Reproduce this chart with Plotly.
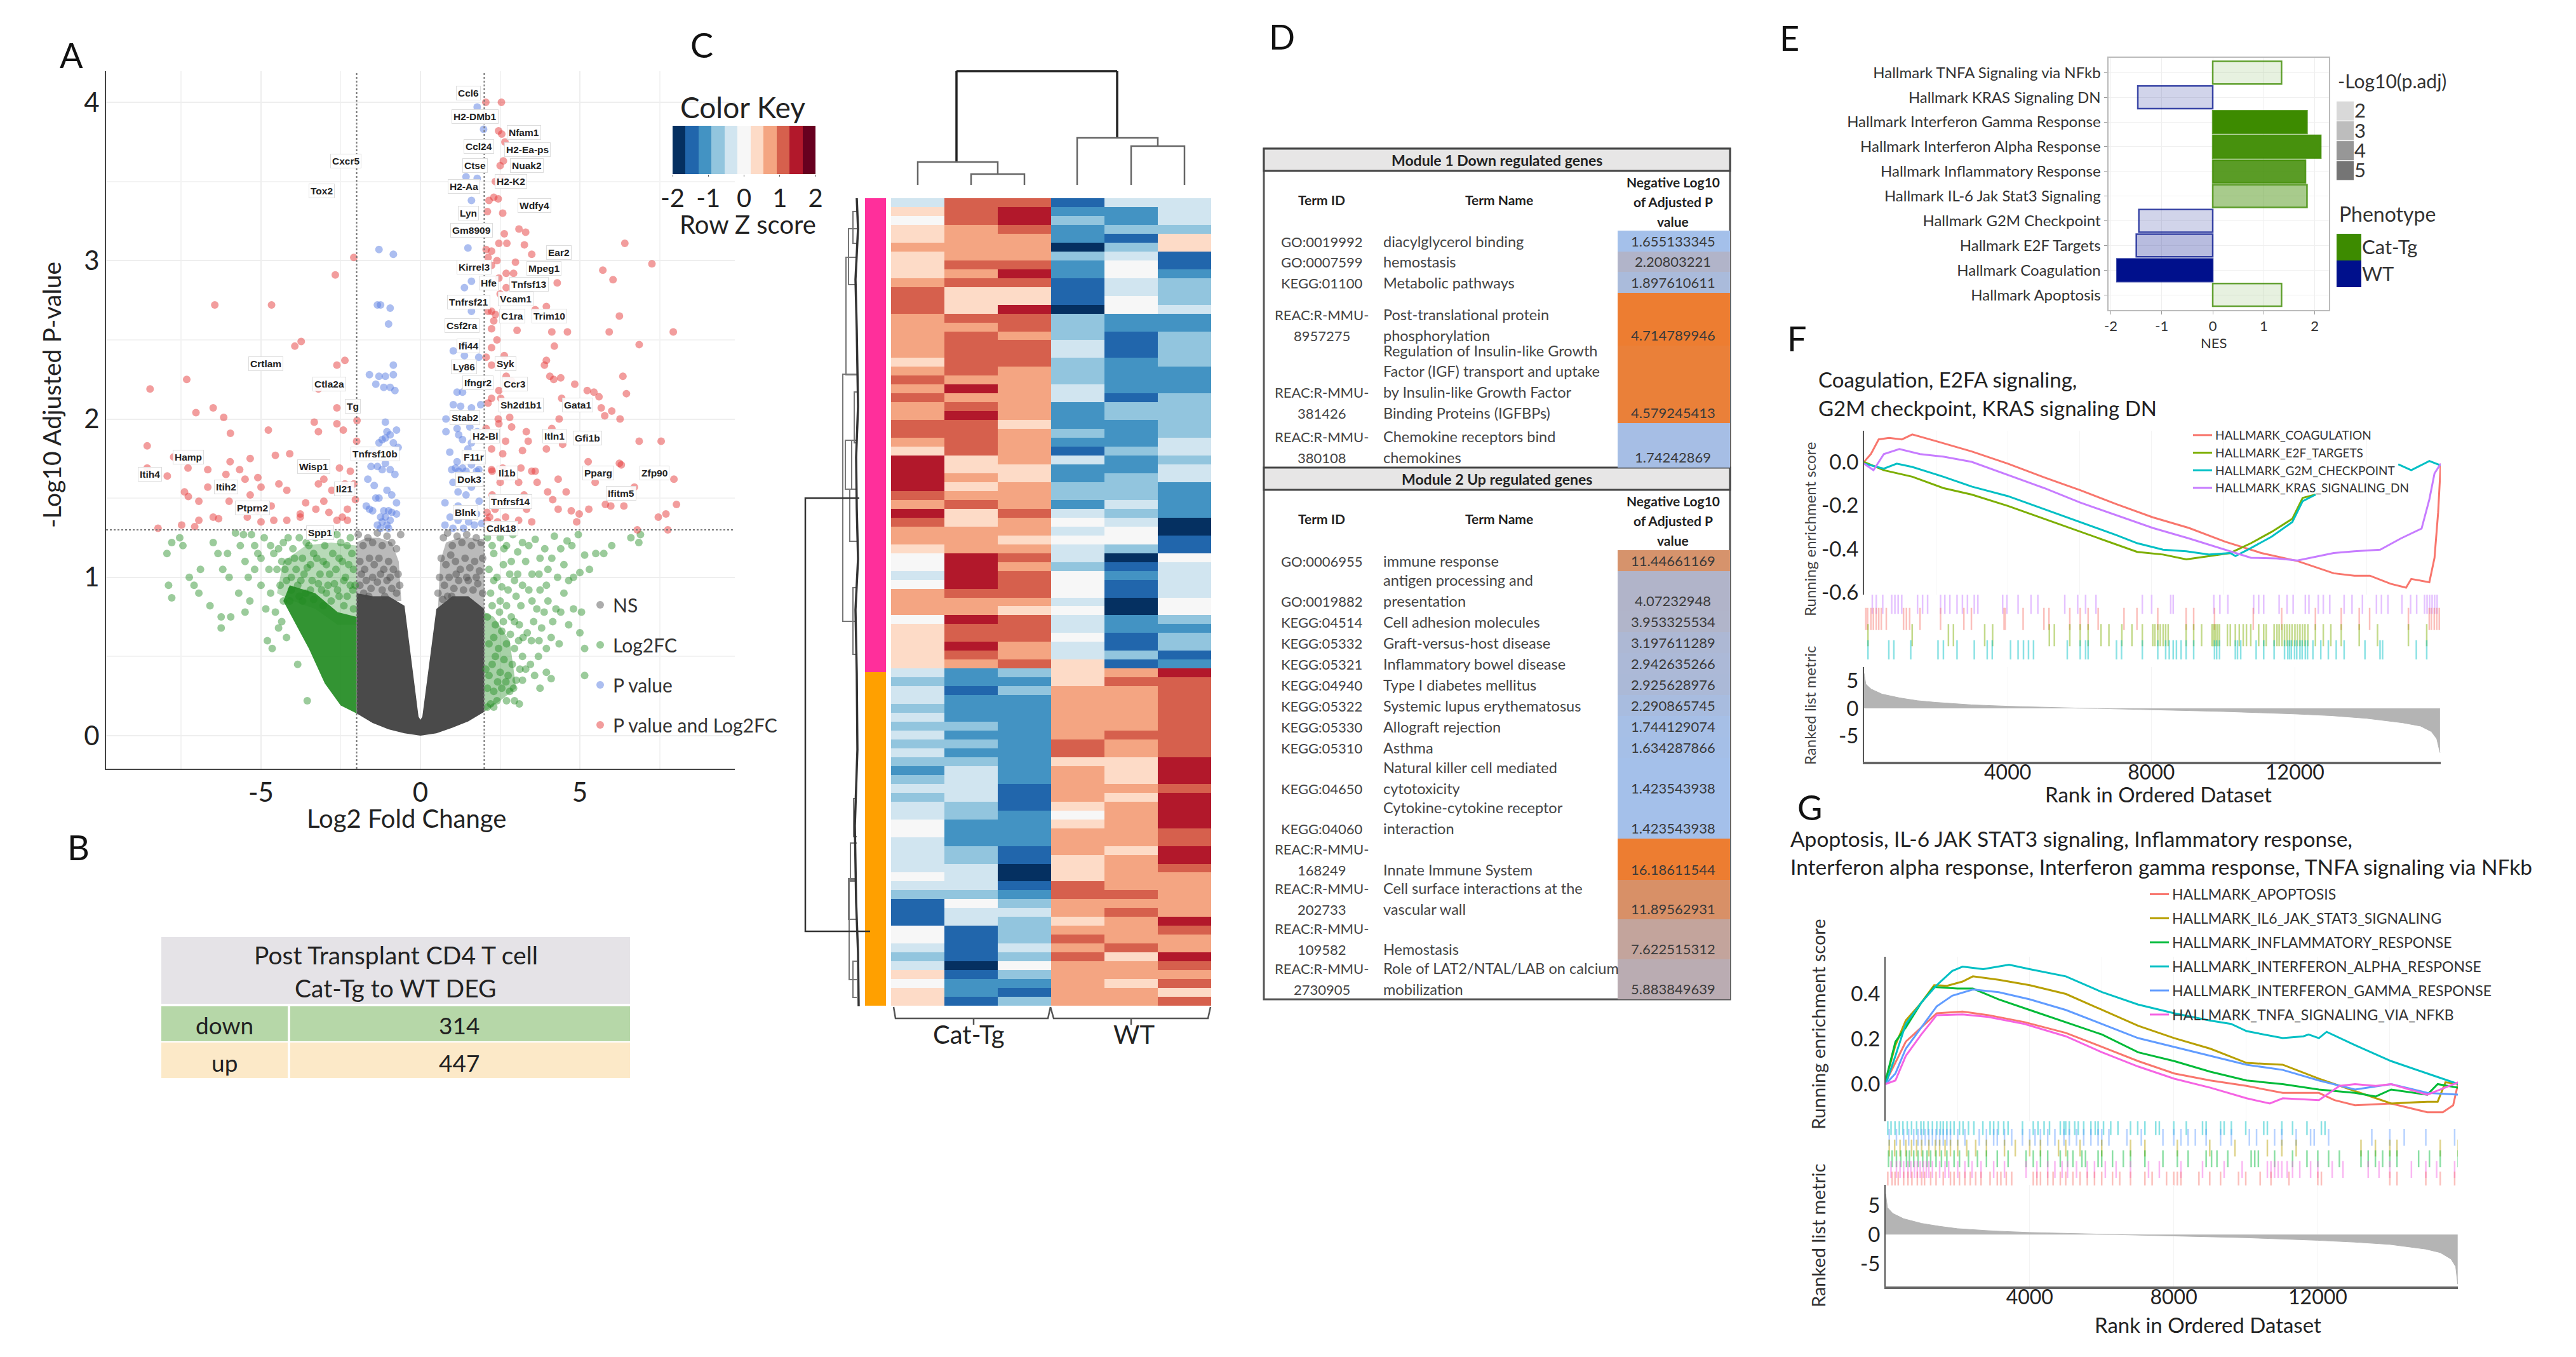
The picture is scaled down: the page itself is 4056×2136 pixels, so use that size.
import plotly.graph_objects as go

W, H = 4056, 2136
FONT = "Lato"

# ---------- A: volcano ----------
red_pts = [(2.54,4.0),(2.05,4.0),(2.45,3.82),(2.55,3.8),(2.65,3.75),(2.6,3.63),(2.5,3.6),(2.55,3.52),(2.35,3.5),(2.3,3.4),(2.15,3.38),(2.1,3.31),(2.44,3.39),(2.58,3.3),
(2.63,3.17),(3.09,3.2),(3.3,3.18),(6.41,3.11),(7.26,2.98),(5.72,2.94),(6.04,2.88),(2.46,3.11),(2.71,3.11),(3.26,3.1),(2.06,3.07),(2.23,3.06),(3.49,3.04),(2.12,3.02),(2.98,2.99),(2.4,3.0),(2.23,2.97),(2.69,2.92),(2.92,2.92),(2.46,2.89),(4.29,2.86),(2.69,2.83),(2.5,2.79),(3.95,2.71),(6.24,2.65),(3.6,2.69),(2.23,2.68),(2.35,2.66),(2.12,2.68),(2.3,2.62),(2.23,2.57),(3.03,2.56),(4.12,2.55),(4.61,2.55),(5.92,2.55),(7.93,2.55),(2.4,2.5),(4.2,2.46),(6.86,2.47),(2.23,2.45),(2.06,2.39),(2.63,2.4),(3.95,2.37),(3.89,2.34),(2.23,2.34),(6.35,2.27),(4.06,2.27),(4.18,2.25),(4.4,2.26),(2.69,2.27),(2.86,2.24),(4.84,2.22),(5.23,2.18),(5.44,2.17),(5.6,2.14),(6.46,2.16),(2.46,2.18),(2.52,2.13),(2.23,2.13),(2.12,2.1),(4.43,2.13),(5.67,2.07),(6.0,2.05),(5.78,2.02),(6.26,2.0),(4.35,2.0),(2.8,2.01),(2.44,2.0),(2.46,1.97),(2.06,1.94),(2.86,1.95),(3.32,1.92),(4.12,1.94),(3.38,1.86),(2.67,1.86),(6.86,1.86),(7.55,1.86),(4.46,1.84),(3.95,1.81),(3.2,1.8),(2.58,1.78),(2.23,1.81),(5.26,1.73),(6.24,1.72),(3.6,1.67),(3.15,1.69),(2.23,1.68),(2.58,1.69),
(6.3,1.71),(7.95,1.62),(6.71,1.57),(5.48,1.6),(3.49,1.67),(4.32,1.62),(3.99,1.54),(3.66,1.6),(4.57,1.54),(5.8,1.46),(5.97,1.45),(8.03,1.46),(4.73,1.42),(4.98,1.4),(5.28,1.43),(4.9,1.35),(6.38,1.45),(7.46,1.38),(7.7,1.4),(6.8,1.3),(7.76,1.3),(4.15,1.49),(4.32,1.43),(3.49,1.35),(3.08,1.36),(2.67,1.38),(2.34,1.43),(2.09,1.41),(2.17,1.38),(2.42,1.35),(2.09,1.36),(2.67,1.47),(3.25,1.52),(2.67,1.64),(2.25,1.67),(3.08,1.6),(3.33,1.43),(2.25,1.52),(2.5,1.6),
(-2.09,3.02),(-2.67,2.91),(-6.45,2.72),(-4.67,2.72),(-3.94,2.46),(-3.74,2.49),(-2.37,2.37),(-2.62,2.34),(-7.33,2.25),(-8.48,2.19),(-3.2,2.19),(-6.5,2.07),(-7.04,2.04),(-6.17,2.01),(-2.62,2.07),(-2.09,2.08),(-3.33,1.98),(-2.62,1.97),(-2.42,1.93),(-3.2,1.92),(-1.99,1.99),(-4.77,1.93),(-5.96,1.91),(-8.57,1.83),(-2.0,1.86),(-4.55,1.77),(-4.1,1.78),(-5.34,1.75),(-7.74,1.76),(-7.29,1.69),(-6.67,1.68),(-5.97,1.73),(-5.67,1.68),(-8.57,1.69),(-7.94,1.64),(-2.54,1.69),(-2.2,1.67),(-3.03,1.62),(-3.2,1.59),(-3.53,1.69),(-5.1,1.63),(-6.1,1.65),(-5.5,1.62),(-4.44,1.59),(-5.0,1.57),(-7.4,1.54),(-7.28,1.51),(-6.95,1.48),(-6.67,1.57),(-5.34,1.52),(-4.19,1.55),(-2.78,1.55),(-2.37,1.59),(-2.09,1.59),(-2.04,1.49),(-3.03,1.48),(-2.87,1.41),(-2.62,1.36),(-2.45,1.38),(-2.29,1.43),(-3.28,1.43),(-3.77,1.4),(-4.19,1.36),(-4.68,1.45),(-5.1,1.42),(-5.43,1.38),(-4.6,1.36),(-5.0,1.35),(-6.0,1.48),(-6.5,1.38),(-6.95,1.36),(-7.08,1.32),(-7.49,1.33),(-8.23,1.31),(-6.33,1.37),(-3.6,1.47),(-3.77,1.38),(-2.29,1.36)]
blue_pts = [(-1.3,3.07),(-0.85,3.04),(-1.35,2.72),(-1.25,2.72),(-0.95,2.7),(-1.0,2.6),(-0.85,2.34),(-1.6,2.28),(-1.3,2.27),(-1.1,2.27),(-0.85,2.28),(-1.15,2.2),(-0.95,2.2),(-1.4,2.22),(-0.8,2.18),(-1.1,1.98),(-1.05,1.92),(-1.2,1.87),(-1.1,1.88),(-0.95,1.9),(-0.75,1.93),(-1.3,1.85),(-0.85,1.85),(-0.7,1.82),(-1.5,1.8),(-1.55,1.7),(-1.35,1.7),(-1.2,1.68),(-1.1,1.72),(-0.95,1.68),(-0.8,1.65),(-1.65,1.62),(-1.45,1.58),(-1.05,1.55),(-1.3,1.5),(-0.9,1.52),(-0.75,1.47),(-1.4,1.5),(-1.7,1.45),(-1.5,1.42),(-1.15,1.42),(-1.0,1.42),(-0.9,1.41),(-0.75,1.4),(-1.25,1.38),(-1.1,1.38),(-0.95,1.36),(-1.2,1.35),(-1.05,1.33),(-1.6,1.43),(-1.35,1.33),(-1.25,1.31),(-1.0,1.31),
(1.78,3.97),(1.98,3.83),(1.43,3.53),(1.78,3.52),(1.6,3.38),(1.49,3.08),(1.6,2.87),(1.38,2.83),(1.6,2.68),(1.03,2.43),(1.38,2.4),(1.83,2.39),(1.32,2.47),(1.15,2.17),(1.32,2.17),(1.03,2.09),(1.26,2.08),(1.6,2.07),(1.89,2.09),(0.8,2.0),(1.15,1.94),(0.8,1.92),(1.2,1.9),(1.55,1.95),(1.78,1.92),(1.32,1.87),(1.6,1.85),(1.49,1.81),(0.92,1.79),(1.15,1.73),(1.32,1.69),(1.6,1.71),(1.83,1.68),(1.2,1.67),(0.98,1.68),
(1.1,1.69),(1.43,1.67),(1.76,1.67),(1.18,1.54),(1.43,1.52),(0.77,1.47),(1.18,1.45),(1.84,1.48),(0.93,1.38),(1.35,1.41),(1.76,1.4),(0.77,1.33),(1.02,1.31),(1.35,1.31),(1.69,1.33),(1.18,1.36),(1.51,1.35),(1.92,1.34),(1.6,1.57),(1.02,1.6)]
green_pts = [(-7.8,1.22),(-7.95,1.15),(-7.45,1.2),(-7.55,1.25),(-7.25,1.0),(-7.9,.95),(-7.8,.87),(-7.1,.95),(-6.95,.9),(-6.9,1.05),(-6.6,.82),(-6.5,1.22),(-6.35,1.15),(-6.2,1.05),(-6.25,.75),(-6.25,.68),(-5.95,.75),(-6.0,1.0),(-6.05,1.15),(-5.8,1.28),(-5.65,1.2),(-5.55,1.27),(-5.5,1.1),(-5.4,1.0),(-5.7,.9),(-5.5,.78),(-5.35,.85),(-5.2,1.05),(-5.2,1.2),(-5.1,1.15),(-5.0,1.12),(-4.9,1.25),(-5.0,.95),(-4.85,.8),(-4.7,.9),(-4.75,1.05),(-4.8,.6),(-4.65,.55),(-4.6,1.15),(-4.5,1.05),(-4.4,.95),(-4.55,.78),(-4.45,.68),(-4.35,1.1),(-4.3,1.22),(-4.2,.98),(-4.15,1.1),(-4.1,.85),(-4.0,1.18),(-3.9,1.05),(-3.85,.95),(-3.8,1.25),(-3.7,1.12),(-3.65,1.02),(-3.6,.9),(-3.5,1.2),(-3.45,1.08),(-3.4,.98),(-3.3,1.25),(-3.25,1.12),(-3.15,1.02),(-3.1,.92),(-3.0,1.2),(-2.95,1.08),(-2.9,.95),(-2.8,1.28),(-2.75,1.15),(-2.65,1.05),(-2.6,.92),(-2.5,1.22),(-2.45,1.1),(-2.35,1.0),(-2.3,.88),(-2.2,1.25),(-2.15,1.15),(-2.1,1.05),(-2.05,.95),(-3.55,.22),(-3.85,.45),(-4.2,.62),(-4.35,.72),
(-4.45,1.18),(-4.25,1.05),(-4.05,1.0),(-3.95,1.12),(-3.75,.98),(-3.55,1.06),(-3.35,1.15),(-3.2,.96),(-3.05,1.1),(-2.85,1.02),(-2.7,.96),(-2.55,1.12),(-2.4,.98),(-2.25,1.08),(-2.12,.92),(-3.8,.88),(-3.45,.92),(-2.95,.9),(-2.55,.88),(-2.2,.95),(-4.3,.85),(-4.05,.92),(-3.7,.85),(-3.35,.86),(-3.05,.82),(-2.8,.85),(-2.4,.82),(-2.1,.8),(-3.58,1.22),(-3.1,1.27),(-2.62,1.27),(-2.3,1.2),(-4.15,1.25),(-4.7,1.2),(-5.3,1.27),
(2.1,1.25),(2.3,1.15),(2.5,1.25),(2.7,1.2),(2.9,1.27),(3.2,1.22),(3.6,1.24),(3.9,1.18),(4.2,1.26),(4.6,1.23),(4.75,1.2),(4.95,1.27),(5.15,1.14),(5.3,1.05),(5.5,1.15),(5.75,1.15),(6.0,1.2),(6.6,1.25),(6.85,1.22),(6.9,1.27),(2.15,1.05),(2.4,1.0),(2.6,1.08),(2.85,1.1),(3.05,1.02),(3.3,1.1),(3.5,1.02),(3.75,1.12),(4.0,1.05),(4.3,1.0),(4.5,1.08),(4.8,1.0),(5.0,1.03),(2.2,.9),(2.5,.85),(2.75,.92),(3.0,.88),(3.2,.95),(3.5,.85),(3.75,.92),(4.0,.85),(4.25,.8),(4.5,.9),(4.8,.8),(5.05,.78),(2.1,.75),(2.35,.7),(2.6,.72),(2.85,.75),(3.1,.7),(3.35,.65),(3.55,.72),(3.8,.68),(4.1,.62),(4.35,.58),(5.0,.65),(5.15,.55),(2.15,.58),(2.45,.55),(2.7,.58),(2.95,.55),(3.2,.5),(3.45,.45),(3.7,.5),(3.95,.4),(4.1,.36),(2.05,.42),(2.25,.45),(2.5,.4),(2.75,.38),(3.0,.35),(3.2,.35),(3.75,.3),(2.1,.3),(2.3,.28),(2.55,.3),(2.8,.28),(2.95,.22),(3.1,.2),(2.2,.2),(2.4,.22),(2.7,.22),(2.1,.18),(2.3,.18),(5.15,.38),
(2.25,1.2),(2.62,1.18),(2.8,1.02),(3.05,1.16),(3.4,1.2),(3.72,1.02),(3.95,.95),(4.12,1.12),(4.4,1.18),(4.65,.98),(2.3,.98),(2.55,.94),(2.95,.98),(3.15,.82),(3.4,.92),(3.65,.8),(3.88,.78),(4.15,.72),(4.4,.78),(4.65,.7),(2.25,.82),(2.48,.78),(2.7,.82),(2.95,.72),(3.22,.62),(3.48,.6),(3.72,.6),(3.95,.55),(2.3,.62),(2.55,.66),(2.82,.64),(3.08,.6),(3.3,.42),(3.58,.38),(2.35,.5),(2.62,.48),(2.88,.45),(3.12,.42),(2.15,.38),(2.42,.34),(2.68,.34),(2.92,.3)]
gray_pts = [(-1.95,1.27),(-1.8,1.2),(-1.65,1.25),(-1.5,1.22),(-1.35,1.28),(-1.2,1.2),(-1.05,1.26),(-.9,1.22),(-.75,1.18),(-.62,1.27),(-1.9,1.1),(-1.75,1.05),(-1.6,1.12),(-1.45,1.08),(-1.3,1.12),(-1.15,1.05),(-1.0,1.1),(-.85,1.05),(-.7,1.02),(-1.9,.95),(-1.7,.98),(-1.55,.93),(-1.35,.97),(-1.2,.92),(-1.05,.98),(-.9,.93),(-.75,.9),(-.65,.95),(-1.85,1.02),(-1.5,1.0),(-1.25,1.02),(-.95,1.0),(-1.62,.88),(-1.12,.88),(-1.78,.9),
(.72,1.25),(.85,1.28),(1.0,1.2),(1.15,1.26),(1.3,1.22),(1.45,1.27),(1.6,1.2),(1.75,1.25),(1.9,1.22),(.65,1.12),(.8,1.08),(.95,1.14),(1.1,1.1),(1.25,1.05),(1.4,1.12),(1.55,1.06),(1.7,1.1),(1.85,1.04),(1.95,1.12),(.6,1.0),(.75,.95),(.9,1.0),(1.05,.93),(1.2,.98),(1.35,.92),(1.5,.98),(1.65,.92),(1.8,.96),(1.95,.9),(.55,.9),(.7,.86),(.85,.88),(1.12,1.02),(1.45,1.0),(1.75,1.0),(.98,.88)]
gray_region_x = [-2,-1.5,-1,-.5,0,.5,1,1.5,2,2,1.5,1,.5,.06,0,-.06,-.5,-1,-1.5,-2,-2]
gray_region_y = [.14,.08,.04,.015,0,.015,.05,.09,.15,.8,.88,.88,.8,.12,.1,.12,.82,.88,.88,.9,.14]
gray_haze_left_x = [-2,-.6,-.68,-.9,-1.3,-1.7,-2,-2]
gray_haze_left_y = [.85,.85,1.1,1.22,1.25,1.25,1.22,.85]
gray_haze_right_x = [2,.55,.62,.8,1.2,1.6,2,2]
gray_haze_right_y = [.8,.8,1.1,1.22,1.25,1.25,1.22,.8]
green_left_x = [-2,-2.5,-3,-3.5,-3.9,-4.3,-4.1,-3.3,-2.6,-2,-2]
green_left_y = [.14,.19,.33,.55,.7,.85,.95,.9,.78,.75,.14]
green_haze_left_x = [-2,-2.6,-3.3,-4.0,-4.5,-4.3,-3.6,-2.8,-2,-2]
green_haze_left_y = [.7,.7,.8,.85,.9,1.1,1.2,1.22,1.2,.7]
green_right_x = [2,2.5,3,2.8,2.3,2,2]
green_right_y = [.15,.22,.3,.6,.75,.78,.15]
gene_labels = ["Ccl6","H2-DMb1","Nfam1","Ccl24","H2-Ea-ps","Ctse","Nuak2","H2-K2","H2-Aa","Cxcr5","Tox2","Wdfy4","Lyn","Gm8909","Ear2","Kirrel3","Mpeg1","Hfe","Tnfsf13","Tnfrsf21","Vcam1","C1ra","Trim10","Csf2ra","Ifi44","Crtlam","Syk","Ly86","Ctla2a","Ifngr2","Ccr3","Sh2d1b1","Gata1","Tg","Stab2","H2-Bl","Itln1","Gfi1b","Tnfrsf10b","F11r","Hamp","Wisp1","Itih4","Pparg","Il1b","Zfp90","Dok3","Itih2","Il21","Ifitm5","Tnfrsf14","Ptprn2","Blnk","Cdk18","Spp1"]
gene_fc = [1.51,1.71,3.25,1.84,3.36,1.71,3.33,2.83,1.36,-2.34,-3.10,3.58,1.51,1.61,4.35,1.68,3.87,2.14,3.41,1.51,2.98,2.87,4.05,1.31,1.51,-4.85,2.67,1.36,-2.85,1.81,2.96,3.16,4.93,-2.12,1.40,2.04,4.20,5.24,-1.43,1.68,-7.28,-3.35,-8.48,5.57,2.72,7.34,1.54,-6.10,-2.40,6.30,2.82,-5.26,1.41,2.54,-3.15]
gene_p = [4.06,3.91,3.81,3.72,3.70,3.60,3.60,3.50,3.47,3.63,3.44,3.35,3.30,3.19,3.05,2.96,2.95,2.86,2.85,2.74,2.76,2.65,2.65,2.59,2.46,2.35,2.35,2.33,2.22,2.23,2.22,2.09,2.09,2.08,2.01,1.89,1.89,1.88,1.78,1.76,1.76,1.70,1.65,1.66,1.66,1.66,1.62,1.57,1.56,1.53,1.48,1.44,1.41,1.31,1.28]

# ---------- B ----------
deg_title = ["Post Transplant CD4 T cell", "Cat-Tg to WT DEG"]
deg_dir = ["down", "up"]
deg_count = [314, 447]

# ---------- C: heatmap (row z-scores, top to bottom) ----------
cat1 = [-.2,.4,-.1,.4,.5,.6,.5,.4,.3,.7,1.1,1.0,1.0,.6,.7,.7,.7,.7,.4,.7,1.1,.8,1.1,.7,.7,1.1,1.1,.7,.5,1.5,1.5,1.4,1.4,1.1,.9,1.4,1.0,.8,.9,.5,0,0,-.3,-.1,.6,.7,.6,.1,.2,.3,.3,.25,.3,-.4,-.6,-.3,-.5,-.6,-.3,-.7,-.4,-.7,-.4,-.6,-1.0,-.7,-.5,-.75,-.2,-.3,-.1,-.1,-.2,-.2,-.2,-.3,.1,-.5,-.7,-1.4,-1.4,-1.3,0,-.1,-.5,-.6,-.4,.2,0,.3,.3]
cat2 = [1.1,1.1,1.2,.9,.9,.7,.7,1.0,.9,1.1,.5,.5,.4,1.0,.9,1.1,1.1,1.0,1.1,1.1,.9,1.3,.7,1.1,1.3,1.1,1.0,1.0,1.1,.4,.4,.6,.5,.7,1.0,.3,.4,.8,.8,.8,1.4,1.3,1.5,1.4,1.2,.7,.9,1.3,1.0,1.1,1.4,1.2,.7,-1.1,-1.1,-1.4,-1.1,-1.1,-1.1,-.7,-1.0,-.8,-1.1,-.7,-.5,-.5,-.3,-.3,-.8,-.7,-1.1,-1.1,-1.1,-.6,-.8,-.2,-.3,-.5,-.6,-.1,-.2,-.5,-1.4,-1.5,-1.4,-1.4,-1.7,-1.3,-1.1,-1.1,-1.5]
cat3 = [1.2,1.4,1.3,1.2,.8,.7,.9,1.0,1.5,1.0,.5,.4,1.5,1.1,1.1,.9,1.0,1.1,1.0,.7,.7,.7,.6,.7,.7,.4,.7,.7,.6,.6,.3,.2,.6,.7,.6,1.0,.8,.7,.5,.6,1.0,.8,1.0,1.0,1.0,.8,.3,1.1,1.1,1.1,.7,.8,1.1,-.9,-1.0,-.8,-1.1,-1.1,-1.1,-1.1,-1.2,-1.1,-1.1,-1.1,-1.1,-1.1,-1.5,-1.3,-1.5,-1.2,-1.1,-1.1,-1.2,-1.5,-1.5,-1.8,-1.9,-1.3,-1.1,-.8,-.5,-.6,-.8,-.7,-.4,-.8,0,-.8,-1.2,-1.4,-.9]
wt1 = [-1.5,-1.1,-.8,-1.1,-1.2,-1.9,-.8,-1.0,-1.1,-1.5,-1.5,-1.4,-1.9,-.6,-.8,-.7,-.3,-.5,-.6,-.6,-.6,-.3,-.35,-1.1,-1.1,-1.1,-.8,-1.1,-1.4,-.4,-1.0,-1.1,-.7,-.7,-1.1,-.3,0,-.3,-.1,-.3,-.5,-.6,-.1,-.1,-.1,-.3,.1,-.3,-.2,0,-.3,-.3,.3,.2,.3,.7,.7,.7,.7,.7,.7,1.1,1.1,.4,.6,.7,.8,.8,.2,.1,.4,.7,.7,.7,.3,.5,.5,1.0,1.0,.8,.8,.4,.6,1.0,.8,1.0,.7,.7,.8,.7,.6]
wt2 = [-.4,-1.1,-1.1,-.9,-1.3,-.7,-.2,-.1,-.1,-.3,-.5,.1,0,-1.1,-1.0,-1.5,-1.5,-1.3,-1.1,-1.1,-1.1,-1.1,-1.4,-.8,-.7,-1.1,-1.1,-1.1,-.8,-1.2,-1.1,-.8,-.6,-.7,-.3,-.8,-.3,-.1,-.1,-.8,-1.8,-1.4,-1.2,-1.5,-1.5,-1.9,-1.8,-1.1,-1.1,-1.4,-1.4,-.7,-1.4,.7,1.1,.8,.7,.7,.7,.7,1.0,.7,.7,.5,.3,.2,.7,.3,.7,.8,.6,.7,.7,.3,.7,.8,.7,.7,1.1,.8,1.1,.7,.9,.7,1.0,.5,.6,.7,.4,.9,.6]
wt3 = [-.35,-.3,-.3,-.6,.3,.3,-1.5,-1.4,-1.1,-.8,-.8,-.9,-.4,-1.0,-1.1,-.7,-.7,-.7,-.7,-1.0,-1.1,-1.1,-.7,-.6,-.6,-.6,-.6,-.3,-.3,-.7,-.3,-.5,-1.1,-1.1,-1.1,-1.1,-1.7,-1.8,-1.6,-1.4,-.1,-.4,-.4,-.3,-.2,0,-.1,-.6,-1.0,-.7,-.7,-1.5,-1.0,1.5,1.1,1.1,1.1,1.1,1.1,1.1,1.1,1.0,1.0,1.5,1.5,1.5,1.2,1.3,1.5,1.6,1.4,1.1,1.1,1.3,1.3,1.0,.6,.7,.7,.8,.7,1.5,1.0,.9,.6,1.3,1.0,.7,1.0,.5,1.1]
sample_labels = ["Cat-Tg", "WT"]
key_midpoints = [-1.82,-1.45,-1.09,-.73,-.36,0,.36,.73,1.09,1.45,1.82]
key_edges = [-2,-1.636,-1.273,-.909,-.545,-.182,.182,.545,.909,1.273,1.636,2]
key_colors = ["#053061","#2166ac","#4393c3","#92c5de","#d1e5f0","#f7f7f7","#fddbc7","#f4a582","#d6604d","#b2182b","#67001f"]
stepped = []
for i, c in enumerate(key_colors):
    stepped += [[i/11, c], [(i+1)/11, c]]

# ---------- D: enrichment tables ----------
m1_ids = [["GO:0019992"],["GO:0007599"],["KEGG:01100"],["REAC:R-MMU-","8957275"],["REAC:R-MMU-","381426"],["REAC:R-MMU-","380108"]]
m1_names = [["diacylglycerol binding"],["hemostasis"],["Metabolic pathways"],["Post-translational protein","phosphorylation"],["Regulation of Insulin-like Growth","Factor (IGF) transport and uptake","by Insulin-like Growth Factor","Binding Proteins (IGFBPs)"],["Chemokine receptors bind","chemokines"]]
m1_vals = ["1.655133345","2.20803221","1.897610611","4.714789946","4.579245413","1.74242869"]
m1_edges = [363,396,428,461,544,666,736]
m2_ids = [["GO:0006955"],["GO:0019882"],["KEGG:04514"],["KEGG:05332"],["KEGG:05321"],["KEGG:04940"],["KEGG:05322"],["KEGG:05330"],["KEGG:05310"],["KEGG:04650"],["KEGG:04060"],["REAC:R-MMU-","168249"],["REAC:R-MMU-","202733"],["REAC:R-MMU-","109582"],["REAC:R-MMU-","2730905"]]
m2_names = [["immune response"],["antigen processing and","presentation"],["Cell adhesion molecules"],["Graft-versus-host disease"],["Inflammatory bowel disease"],["Type I diabetes mellitus"],["Systemic lupus erythematosus"],["Allograft rejection"],["Asthma"],["Natural killer cell mediated","cytotoxicity"],["Cytokine-cytokine receptor","interaction"],["Innate Immune System"],["Cell surface interactions at the","vascular wall"],["Hemostasis"],["Role of LAT2/NTAL/LAB on calcium","mobilization"]]
m2_vals = ["11.44661169","4.07232948","3.953325534","3.197611289","2.942635266","2.925628976","2.290865745","1.744129074","1.634287866","1.423543938","1.423543938","16.18611544","11.89562931","7.622515312","5.883849639"]
m2_edges = [866,899,962,995,1028,1061,1094,1127,1160,1193,1257,1320,1385,1447,1510,1573]

# ---------- E ----------
e_terms = ["Hallmark TNFA Signaling via NFkb","Hallmark KRAS Signaling DN","Hallmark Interferon Gamma Response","Hallmark Interferon Alpha Response","Hallmark Inflammatory Response","Hallmark IL-6 Jak Stat3 Signaling","Hallmark G2M Checkpoint","Hallmark E2F Targets","Hallmark Coagulation","Hallmark Apoptosis"]
e_nes = [1.35,-1.47,1.85,2.12,1.82,1.85,-1.45,-1.5,-1.88,1.35]
e_alpha = [.12,.18,1,.95,.85,.45,.18,.28,1,.12]
e_p_levels = ["2","3","4","5"]
e_p_colors = ["#d9d9d9","#bdbdbd","#979797","#757575"]
e_pheno = ["Cat-Tg","WT"]
e_pheno_colors = ["#3d8b00","#00108c"]

# ---------- F ----------
f_coag_x = [0,191,407,695,1055,1343,1991,2999,4007,5015,6023,7031,8039,9047,10055,11063,12071,13079,13655,14087,14663,15095,15239,15743,15887,15988,16060]
f_coag_y = [0,.036,.103,.11,.103,.126,.096,.048,-.008,-.071,-.13,-.194,-.254,-.303,-.366,-.418,-.455,-.511,-.522,-.522,-.559,-.577,-.537,-.552,-.44,-.232,-.008]
f_e2f_x = [0,551,1343,2207,2999,4007,5015,6023,7031,7607,8327,8975,9623,10199,10775,11351,11927,12215,12575]
f_e2f_y = [0,-.038,-.068,-.12,-.15,-.202,-.261,-.321,-.38,-.413,-.425,-.447,-.432,-.418,-.373,-.321,-.261,-.165,-.15]
f_g2m_x = [0,551,911,1343,2207,2999,4007,5015,6023,7031,7607,8327,8975,9623,10199,10343,10775,11351,11927,12215,12575,None,14879,15239,15743,16060]
f_g2m_y = [-.008,-.031,-.008,-.023,-.068,-.113,-.157,-.217,-.276,-.336,-.373,-.403,-.41,-.425,-.418,-.432,-.395,-.343,-.276,-.18,-.15,None,-.011,-.038,.004,-.016]
f_kras_x = [0,263,551,983,1559,2207,2999,4007,5015,6023,7031,8039,9047,10055,10775,11495,12071,13079,13655,14375,14951,15527,15743,15887,16060]
f_kras_y = [-.008,-.038,.036,.059,.036,.024,0,-.06,-.12,-.187,-.246,-.303,-.351,-.403,-.44,-.443,-.452,-.418,-.41,-.403,-.351,-.306,-.172,-.053,-.008]
f_rug_kras = [230,340,520,770,860,950,1050,1490,1630,1770,2130,2250,2390,2590,2740,2880,3070,3170,3860,3980,4290,4650,4840,5590,5950,6170,6460,7750,8010,8540,8610,9740,9910,10130,10850,10990,11130,11560,11780,11950,12290,12390,12650,12790,12970,13370,13590,13880,14270,14410,14590,14980,15220,15390,15610,15680,15750,15820,15890,15960]
f_rug_coag = [50,190,340,480,620,1100,1270,1560,2130,2780,2990,3930,4430,5010,5150,5730,6020,6240,6520,7240,7600,8180,8970,9180,9760,10840,11630,12570,13290,13790,14080,15160,15740,15880,16020,100,260,410,1180,3900,15800,15950]
f_rug_e2f = [110,1340,2350,2490,3360,3580,5160,5300,5730,6020,6240,6600,6820,7180,7460,7750,8040,8180,8330,8470,8970,9180,9400,9690,9760,9900,10120,10340,10560,10770,10990,11130,11420,11560,11710,11920,12070,12210,12360,12570,12790,13000,13290,13790,14300,15160,15670,8100,8250,8400,9720,9800,9850,11200,11500,11640,11780,11850,12000,12140,12280,10200,10450,10650]
f_rug_g2m = [110,690,830,1300,2060,2210,2590,3070,3430,3570,4080,4290,4440,4580,4720,5660,6020,6170,6240,7030,7170,7750,8180,8400,8610,8830,8970,9180,9760,9900,10340,10490,10920,11130,11420,11710,11850,11990,12140,12290,12500,12720,12930,13150,13370,13950,14370,14440,15380,15670,8500,8700,9820,10400,11800,11900,12050,12200,12350]
f_metric_x = [0,50,200,500,1000,1500,2000,3000,4000,5000,6000,6500,8000,10000,12000,13000,14000,15000,15500,15800,15950,16040]
f_metric_y = [6.4,4.4,3.5,2.6,1.9,1.4,1.1,.65,.4,.2,.05,0,-.25,-.55,-1.0,-1.3,-1.8,-2.6,-3.2,-4.2,-5.5,-8]

# ---------- G ----------
g_alpha_x = [0,272,559,989,1419,1849,2136,2710,3427,4000,5004,6008,7012,8016,9019,9593,10023,11027,11601,11744,12031,12246,13034,14038,15042,15903]
g_alpha_y = [0,.125,.267,.361,.439,.502,.521,.51,.53,.51,.478,.408,.353,.314,.282,.267,.235,.204,.212,.22,.204,.232,.173,.102,.047,0]
g_il6_x = [0,272,559,989,1347,1706,2136,2423,3140,4000,5004,6008,7012,8016,9019,10023,11027,12031,13034,14038,15042,15329,15544,15903]
g_il6_y = [.016,.173,.282,.361,.439,.436,.455,.478,.463,.439,.4,.329,.259,.204,.157,.094,.086,.024,-.031,-.086,-.078,-.078,.008,0]
g_infl_x = [0,272,559,989,1347,1993,2423,3140,4000,5004,6008,7012,8016,9019,10023,11027,12031,13034,13610,14038,15042,15329,15903]
g_infl_y = [.016,.188,.251,.361,.431,.424,.424,.376,.329,.275,.22,.141,.102,.055,.016,0,-.024,-.039,-.055,-.024,-.047,0,-.016]
g_gamma_x = [0,272,559,989,1419,1849,2423,3140,4000,5004,6008,7012,8016,9019,10023,11027,12031,13034,14038,15042,15903]
g_gamma_y = [0,.047,.157,.251,.345,.392,.42,.408,.376,.329,.267,.204,.165,.125,.086,.063,.016,-.024,0,-.039,-.047]
g_tnfa_x = [0,272,559,989,1419,2136,2853,3857,5004,6008,7012,8016,9019,10023,10668,11027,12031,12605,13034,13610,14038,15042,15903]
g_tnfa_y = [0,.016,.125,.22,.306,.309,.298,.267,.212,.141,.078,.024,-.016,-.063,-.086,-.063,-.071,-.008,0,-.008,0,-.047,.008]
g_apop_x = [0,272,559,989,1419,2136,2853,3857,5004,6008,7012,8016,9019,10023,11027,12031,12461,13034,14038,15042,15472,15759,15903]
g_apop_y = [.008,.094,.188,.251,.314,.322,.306,.275,.227,.165,.102,.047,.016,-.008,-.039,-.039,-.071,-.094,-.086,-.125,-.125,-.094,.008]
g_rug_alpha = [60,150,260,380,480,600,720,860,980,1060,1180,1300,1420,1520,1600,1700,1800,1900,2050,2150,2300,2450,2700,2900,3000,3130,3280,3400,3800,4100,4230,4400,4550,4850,4950,5000,5100,5250,5350,5500,5700,5820,5900,6050,6250,6450,6800,7000,7200,7500,7600,8000,8350,8800,8900,9300,9400,9600,10000,10500,10600,11000,11300,11700,12100,12200]
g_rug_gamma = [100,300,500,640,780,900,1000,1100,1200,1300,1400,1500,1600,1700,1800,2000,2200,2600,2800,3000,3100,3300,3500,3800,4000,4150,4300,4500,4700,4950,5100,5300,5500,5700,5900,6000,6200,6700,7100,7700,8000,8200,8400,8600,8900,9300,9600,10100,10300,10800,11000,11400,11800,11900,12300,13500,14000,14400,15000,15800]
g_rug_il6 = [100,250,400,560,720,860,1000,1200,1380,1500,1650,1800,2000,2250,2500,2800,3300,3600,4000,4300,4800,5000,5400,6000,6800,7200,8100,9000,9700,10600,11000,11400,13200,13600,14000,14200,15400,15900]
g_rug_infl = [80,180,300,420,580,660,780,900,1030,1150,1250,1400,1550,1700,1900,2050,2300,2550,2800,3100,3400,3900,4100,4300,4500,4850,5050,5200,5450,5550,5900,6000,6300,6600,6800,7200,7700,8100,8400,8900,9050,9200,9500,10150,10250,10350,10800,11300,11700,12000,12300,12600,13200,13400,13600,13800,14000,14200,14800,15100,15400,15900]
g_rug_tnfa = [150,300,400,500,620,700,800,880,960,1050,1130,1200,1300,1500,1650,1750,2000,2200,2400,2650,3000,3300,3900,4200,4500,4700,4900,5050,5300,5600,5800,6100,6400,6800,7300,7600,8200,8800,9400,9900,10600,10700,10800,10900,11000,11150,11300,11500,11800,12000,12400,12700,13400,13700,14000,14600,15000,15300,15800]
g_rug_apop = [60,180,260,350,500,620,730,880,1000,1080,1250,1400,1600,1800,1900,2050,2200,2350,2500,2650,2900,3100,3200,3350,3500,4100,4200,4300,4500,4650,4850,5000,5200,5400,5600,5800,6000,6300,6500,6800,7200,7400,7800,8000,8100,8200,8700,9000,9300,9800,10000,10400,10700,11200,12000,12100,14000,14200,15000,15400,15800]
g_metric_x = [0,50,200,500,1000,1500,2000,3000,4000,5000,6000,6500,8000,10000,12000,13000,14000,15000,15400,15700,15830,15885]
g_metric_y = [7,4.6,3.6,2.7,1.9,1.4,1.0,.6,.35,.2,.05,0,-.25,-.55,-1.0,-1.3,-1.7,-2.5,-3.1,-4.2,-5.5,-8.5]

# ---------- helpers ----------
def dx(a, b): return [a / W, b / W]
def dy(a, b): return [1 - b / H, 1 - a / H]
annos, shapes, traces = [], [], []
layout = {}

def txt(x, y, s, size=22, color="#222", xa="center", ya="middle", bold=False, angle=0, family=FONT):
    annos.append(dict(x=x, y=y, xref="x13", yref="y13", text=f"<b>{s}</b>" if bold else s, showarrow=False,
                      font=dict(family=family, size=size, color=color), xanchor=xa, yanchor=ya, textangle=angle))
def rect(x0, y0, x1, y1, fill=None, line=None, lw=0, layer="below"):
    shapes.append(dict(type="rect", xref="x13", yref="y13", x0=x0, y0=y0, x1=x1, y1=y1, layer=layer,
                       fillcolor=fill or "rgba(0,0,0,0)", line=dict(color=line or "rgba(0,0,0,0)", width=lw)))
def canvas_lines(xs, ys, color, width):
    traces.append(go.Scatter(x=xs, y=ys, xaxis="x13", yaxis="y13", mode="lines", showlegend=False, hoverinfo="skip",
                             line=dict(color=color, width=width)))
def hidden(dom, rng):
    return dict(domain=dom, range=rng, visible=False, fixedrange=True)

# canvas spanning the whole figure (1 unit = 1 pixel)
layout["xaxis13"] = hidden([0, 1], [0, W])
layout["yaxis13"] = hidden([0, 1], [H, 0])

# ---- panel letters
for s, x, y in [("A",112,86),("B",123,1333),("C",1105,70),("D",2018,57),("E",2817,59),("F",2829,532),("G",2849,1270)]:
    txt(x, y, s, size=54, color="#111")

# ---- A
layout["xaxis"] = dict(domain=dx(167, 1157), range=[-9.86, 9.86], tickvals=[-5, 0, 5], ticktext=["-5", "0", "5"],
    showline=True, linecolor="#444", linewidth=2, gridcolor="#eeeeee", gridwidth=1.5, zeroline=False,
    tickfont=dict(size=42, color="#222"), anchor="y",
    minor=dict(tickvals=[-7.5, -2.5, 2.5, 7.5], showgrid=True, gridcolor="#f3f3f3"))
layout["yaxis"] = dict(domain=dy(112, 1210), range=[-0.209, 4.197], tickvals=[0, 1, 2, 3, 4], ticktext=["0", "1", "2", "3", "4"],
    showline=True, linecolor="#444", linewidth=2, gridcolor="#eeeeee", gridwidth=1.5, zeroline=False,
    tickfont=dict(size=42, color="#222"), anchor="x",
    minor=dict(tickvals=[.5, 1.5, 2.5, 3.5], showgrid=True, gridcolor="#f3f3f3"))
for xs, ys, col in [(gray_haze_left_x, gray_haze_left_y, "rgba(74,74,74,.38)"), (gray_haze_right_x, gray_haze_right_y, "rgba(74,74,74,.38)"),
                    (gray_region_x, gray_region_y, "#4a4a4a"), (green_right_x, green_right_y, "rgba(34,139,34,.4)"),
                    (green_haze_left_x, green_haze_left_y, "rgba(34,139,34,.32)"), (green_left_x, green_left_y, "rgba(34,139,34,.92)")]:
    traces.append(go.Scatter(x=xs, y=ys, mode="lines", fill="toself", fillcolor=col, line=dict(width=0), showlegend=False, hoverinfo="skip"))
for name, pts, col in [("NS", gray_pts, "rgba(70,70,70,.45)"), ("Log2FC", green_pts, "rgba(34,139,34,.45)"),
                       ("P value", blue_pts, "rgba(90,125,225,.5)"), ("P value and Log2FC", red_pts, "rgba(230,60,60,.5)")]:
    traces.append(go.Scatter(x=[p[0] for p in pts], y=[p[1] for p in pts], mode="markers", name=name, legendgroup=name,
                             marker=dict(size=12, color=col), legend="legend"))
for v in (-2, 2):
    shapes.append(dict(type="line", xref="x", yref="y", x0=v, x1=v, y0=-0.209, y1=4.197, layer="above",
                       line=dict(color="#777", width=2, dash="dot")))
shapes.append(dict(type="line", xref="x", yref="y", x0=-9.86, x1=9.86, y0=1.3, y1=1.3, layer="above",
                   line=dict(color="#777", width=2, dash="dot")))
for g, fc, p in zip(gene_labels, gene_fc, gene_p):
    annos.append(dict(x=fc, y=p, xref="x", yref="y", text=f"<b>{g}</b>", showarrow=False, bgcolor="rgba(255,255,255,.9)",
                      bordercolor="#dddddd", borderwidth=1, borderpad=2,
                      font=dict(family="Liberation Sans", size=15.5, color="#222")))
txt(640, 1288, "Log2 Fold Change", size=40)
txt(81, 622, "-Log10 Adjusted P-value", size=39, angle=-90)
layout["legend"] = dict(x=925 / W, y=1 - 926 / H, xanchor="left", yanchor="top", bgcolor="rgba(0,0,0,0)",
                        font=dict(family=FONT, size=30, color="#333"), itemsizing="constant", tracegroupgap=21, itemwidth=30)

# ---- B
rect(254, 1475, 992, 1580, fill="#e5e3e7")
rect(254, 1584, 453, 1639, fill="#b6d7a8")
rect(457, 1584, 992, 1639, fill="#b6d7a8")
rect(254, 1641, 453, 1697, fill="#fce9c8")
rect(457, 1641, 992, 1697, fill="#fce9c8")
txt(623, 1503, deg_title[0], size=39)
txt(623, 1555, deg_title[1], size=39)
for d, n, y in zip(deg_dir, deg_count, (1613, 1672)):
    txt(353, y, d, size=37)
    txt(723, y, str(n), size=37)

# ---- C
layout["xaxis2"] = hidden(dx(1403, 1907), [-.5, 5.5])
layout["yaxis2"] = hidden(dy(312, 1583), [90.5, -.5])
z_rows = [list(r) for r in zip(cat1, cat2, cat3, wt1, wt2, wt3)]
traces.append(go.Heatmap(z=z_rows, xaxis="x2", yaxis="y2", colorscale=stepped, zmin=-2, zmax=2, showscale=False, hoverinfo="skip"))
rect(1362, 312, 1395, 1058, fill="#ff2f9b")
rect(1362, 1058, 1395, 1583, fill="#ffa000")
# column dendrogram
canvas_lines([1506,1506,None,1506,1759,None,1759,1759], [255,112,None,112,112,None,112,217], "#222", 3.5)
canvas_lines([1445,1445,1571,1571,None,1529,1529,1613,1613,None,1696,1696,1823,1823,None,1781,1781,1865,1865],
             [291,255,255,274,None,291,274,274,291,None,291,217,217,230,None,291,230,230,291], "#666", 2.5)
# row dendrogram
brackets = [(1343,333,383),(1336,360,448),(1332,405,590),(1327,589,978),(1345,617,697),(1331,693,770),(1341,693,770),(1338,770,852),(1343,925,1030),
            (1344,1257,1317),(1339,1327,1387),(1336,1383,1447),(1337,1385,1542),(1343,1513,1570)]
bx, by = [], []
for x0, y0, y1 in brackets:
    bx += [1349, x0, x0, 1349, None]
    by += [y0, y0, y1, y1, None]
canvas_lines(bx, by, "#777", 2)
canvas_lines([1349,1351,1347,1349,1351,1348,1349,1351,1347,1349,1350,1346,1348,1351,1352],
             [312,360,440,520,640,720,800,880,960,1060,1180,1300,1420,1500,1584], "#333", 3.5)
canvas_lines([1353,1268,1268,1370], [784,784,1466,1466], "#333", 2.5)
# sample brackets
canvas_lines([1407,1410,1650,1654,None,1533,1533], [1585,1603,1603,1585,None,1603,1613], "#555", 2.5)
canvas_lines([1654,1659,1902,1906,None,1781,1781], [1585,1603,1603,1585,None,1603,1613], "#555", 2.5)
txt(1525, 1628, sample_labels[0], size=40)
txt(1785, 1628, sample_labels[1], size=40)
# colour key
layout["xaxis3"] = dict(domain=dx(1059, 1284), range=[-2, 2], tickvals=[-2, -1, 0, 1, 2], ticktext=["-2", "-1", "0", "1", "2"],
                        tickfont=dict(size=40, color="#222"), ticks="outside", ticklen=3, tickcolor="#555", showgrid=False, zeroline=False, anchor="y3")
layout["yaxis3"] = hidden(dy(198, 274), [0, 1])
traces.append(go.Heatmap(z=[key_midpoints], x=key_edges, y=[0, 1], xaxis="x3", yaxis="y3", colorscale=stepped, zmin=-2, zmax=2, showscale=False, hoverinfo="skip"))
txt(1169, 168, "Color Key", size=46)
txt(1177, 353, "Row Z score", size=40)

# ---- D
rect(1990, 234, 2724, 1573, line="#555", lw=3, fill="#ffffff")
BAND = "#e7e6e6"
blue_orange = [[0, "#a4c0ea"], [1, "#ed7d31"]]
def module(title, top, ids, names, vals, edges):
    rect(1990, top, 2724, top + 35, fill=BAND, line="#444", lw=3)
    txt(2357, top + 18, title, size=23, bold=True)
    h = top + 52
    txt(2081, h + 28, "Term ID", size=21, bold=True)
    txt(2360, h + 28, "Term Name", size=21, bold=True)
    for i, line in enumerate(["Negative Log10", "of Adjusted P", "value"]):
        txt(2634, h + i * 31, line, size=21, bold=True)
    nums = [float(v) for v in vals]
    traces.append(go.Heatmap(z=[[n] for n in nums], x=[2547, 2724], y=edges, xaxis="x13", yaxis="y13",
                             colorscale=blue_orange, zmin=min(nums), zmax=max(nums), showscale=False, hoverinfo="skip"))
    for a, b, v, bottom in zip(ids, names, vals, edges[1:]):
        for col, x, al in ((a, 2081, "center"), (b, 2176, "left")):
            for k, line in enumerate(reversed(col)):
                txt(x, bottom - 16 - k * 32.8, line, size=23.5 if al == "left" else 22, color="#444", xa=al)
        txt(2634, bottom - 17, v, size=22, color="#3a3a3a")
module("Module 1 Down regulated genes", 234, m1_ids, m1_names, m1_vals, m1_edges)
module("Module 2 Up regulated genes", 736, m2_ids, m2_names, m2_vals, m2_edges)

# ---- E
layout["xaxis4"] = dict(domain=dx(3319.5, 3667), range=[-2.05, 2.28], tickvals=[-2, -1, 0, 1, 2], ticktext=["-2", "-1", "0", "1", "2"],
    showline=True, mirror=True, linecolor="#bbbbbb", linewidth=2, gridcolor="#eeeeee", zeroline=False,
    ticks="outside", ticklen=5, tickcolor="#999", tickfont=dict(size=22, color="#333"), anchor="y4")
layout["yaxis4"] = dict(domain=dy(91, 487.5), range=[9.6, -0.6], type="category", categoryorder="array", categoryarray=e_terms,
    showline=True, mirror=True, linecolor="#bbbbbb", linewidth=2, gridcolor="#f0f0f0", zeroline=False,
    ticks="outside", ticklen=5, tickcolor="#999", tickfont=dict(size=24, color="#333"), anchor="x4",
    tickmode="array", tickvals=e_terms, ticktext=e_terms)
e_fill = [f"rgba(61,139,0,{a})" if n > 0 else f"rgba(0,16,140,{a})" for n, a in zip(e_nes, e_alpha)]
e_line = ["rgba(61,139,0,.8)" if n > 0 else "rgba(0,16,140,.75)" for n in e_nes]
traces.append(go.Bar(x=e_nes, y=e_terms, orientation="h", xaxis="x4", yaxis="y4", width=.92, showlegend=False, hoverinfo="skip",
                     marker=dict(color=e_fill, line=dict(color=e_line, width=2.5))))
txt(3485, 539, "NES", size=22, color="#333")
txt(3679, 127, "-Log10(p.adj)", size=30, color="#333", xa="left")
txt(3681, 336, "Phenotype", size=32, color="#333", xa="left")
layout["xaxis5"] = hidden(dx(3679, 3706), [0, 1])
layout["yaxis5"] = dict(domain=dy(159, 284), type="category", categoryorder="array", categoryarray=e_p_levels, range=[3.5, -.5],
                        side="right", anchor="x5", showgrid=False, zeroline=False, showline=False, tickfont=dict(size=31, color="#333"),
                        tickmode="array", tickvals=e_p_levels, ticktext=e_p_levels)
traces.append(go.Bar(x=[1, 1, 1, 1], y=e_p_levels, orientation="h", xaxis="x5", yaxis="y5", width=.96, showlegend=False, hoverinfo="skip",
                     marker=dict(color=e_p_colors, line=dict(width=0))))
layout["xaxis6"] = hidden(dx(3679, 3718), [0, 1])
layout["yaxis6"] = dict(domain=dy(368, 452), type="category", categoryorder="array", categoryarray=e_pheno, range=[1.5, -.5],
                        side="right", anchor="x6", showgrid=False, zeroline=False, showline=False, tickfont=dict(size=31, color="#333"),
                        tickmode="array", tickvals=e_pheno, ticktext=e_pheno)
traces.append(go.Bar(x=[1, 1], y=e_pheno, orientation="h", xaxis="x6", yaxis="y6", width=1, showlegend=False, hoverinfo="skip",
                     marker=dict(color=e_pheno_colors, line=dict(width=0))))

# ---- F / G shared builder
def gsea(xa, es_dom, rug_dom, rk_dom, xdom, xmax, es_rng, es_ticks, rk_rng, curves, rugs, metric, legend, rug_size):
    a, b, c = xa, xa + 1, xa + 2
    vgrid = dict(showgrid=True, gridcolor="#f4f4f4", tickvals=[2000, 4000, 6000, 8000, 10000, 12000, 14000], zeroline=False)
    layout[f"xaxis{a}"] = dict(domain=xdom, range=[0, xmax], showticklabels=False, anchor=f"y{a}", **vgrid)
    layout[f"yaxis{a}"] = dict(domain=es_dom, range=es_rng, tickvals=es_ticks, ticktext=[f"{t:.1f}" for t in es_ticks], anchor=f"x{a}",
                               showline=True, linecolor="#555", linewidth=2, showgrid=False, zeroline=False, tickfont=dict(size=33, color="#222"))
    layout[f"xaxis{b}"] = hidden(xdom, [0, xmax])
    layout[f"yaxis{b}"] = hidden(rug_dom, [0, len(rugs)])
    layout[f"xaxis{c}"] = dict(domain=xdom, range=[0, xmax], tickvals=[4000, 8000, 12000], ticktext=["4000", "8000", "12000"], anchor=f"y{c}",
                               showline=True, linecolor="#666", linewidth=4, showgrid=True, gridcolor="#f4f4f4", zeroline=False,
                               tickfont=dict(size=32, color="#222"), ticklabelstandoff=-14)
    layout[f"yaxis{c}"] = dict(domain=rk_dom, range=rk_rng, tickvals=[-5, 0, 5], ticktext=["-5", "0", "5"], anchor=f"x{c}",
                               showline=True, linecolor="#555", linewidth=2, showgrid=False, zeroline=False, tickfont=dict(size=33, color="#222"))
    for name, xs, ys, col in curves:
        traces.append(go.Scatter(x=xs, y=ys, xaxis=f"x{a}", yaxis=f"y{a}", mode="lines", name=name, legendgroup=name, legend=legend,
                                 line=dict(color=col, width=3), hoverinfo="skip"))
    n = len(rugs)
    for i, (xs, col) in enumerate(rugs):
        traces.append(go.Scatter(x=xs, y=[n - i - .5] * len(xs), xaxis=f"x{b}", yaxis=f"y{b}", mode="markers", showlegend=False, hoverinfo="skip",
                                 marker=dict(symbol="line-ns", size=rug_size, color=col, line=dict(color=col, width=2.5)), opacity=.45))
    traces.append(go.Scatter(x=metric[0], y=metric[1], xaxis=f"x{c}", yaxis=f"y{c}", mode="lines", fill="tozeroy", fillcolor="#b4b4b4",
                             line=dict(color="#b4b4b4", width=1), showlegend=False, hoverinfo="skip"))

RED, OLIVE, TEAL, PURPLE = "#f8766d", "#7cae00", "#00bfc4", "#c77cff"
gsea(7, dy(678, 936), dy(936, 1038), dy(1050, 1199), dx(2935, 3843), 16060, [-.609, .143], [-.6, -.4, -.2, 0], [-9.66, 7.5],
     [("HALLMARK_COAGULATION", f_coag_x, f_coag_y, RED), ("HALLMARK_E2F_TARGETS", f_e2f_x, f_e2f_y, OLIVE),
      ("HALLMARK_G2M_CHECKPOINT", f_g2m_x, f_g2m_y, TEAL), ("HALLMARK_KRAS_SIGNALING_DN", f_kras_x, f_kras_y, PURPLE)],
     [(f_rug_kras, PURPLE), (f_rug_coag, RED), (f_rug_e2f, OLIVE), (f_rug_g2m, TEAL)], (f_metric_x, f_metric_y), "legend2", 25)
G_R, G_Y, G_G, G_T, G_B, G_P = "#f8766d", "#b79f00", "#00ba38", "#00bfc4", "#619cff", "#f564e3"
gsea(10, dy(1506, 1765), dy(1765, 1866), dy(1865, 2025), dx(2969, 3870), 15890, [-.165, .565], [0, .2, .4], [-8.9, 8.5],
     [("HALLMARK_APOPTOSIS", g_apop_x, g_apop_y, G_R), ("HALLMARK_IL6_JAK_STAT3_SIGNALING", g_il6_x, g_il6_y, G_Y),
      ("HALLMARK_INFLAMMATORY_RESPONSE", g_infl_x, g_infl_y, G_G), ("HALLMARK_INTERFERON_ALPHA_RESPONSE", g_alpha_x, g_alpha_y, G_T),
      ("HALLMARK_INTERFERON_GAMMA_RESPONSE", g_gamma_x, g_gamma_y, G_B), ("HALLMARK_TNFA_SIGNALING_VIA_NFKB", g_tnfa_x, g_tnfa_y, G_P)],
     [(g_rug_alpha, G_T), (g_rug_gamma, G_B), (g_rug_il6, G_Y), (g_rug_infl, G_G), (g_rug_tnfa, G_P), (g_rug_apop, G_R)],
     (g_metric_x, g_metric_y), "legend3", 19)
layout["legend2"] = dict(x=3448 / W, y=1 - 666 / H, xanchor="left", yanchor="top", bgcolor="rgba(0,0,0,0)", tracegroupgap=0, itemwidth=30,
                         font=dict(family=FONT, size=19, color="#333"))
layout["legend3"] = dict(x=3380 / W, y=1 - 1386 / H, xanchor="left", yanchor="top", bgcolor="rgba(0,0,0,0)", tracegroupgap=5, itemwidth=30,
                         font=dict(family=FONT, size=23, color="#333"))
txt(2861, 597, "Coagulation, E2FA signaling,", size=33, xa="left")
txt(2861, 642, "G2M checkpoint, KRAS signaling DN", size=33, xa="left")
txt(2849, 833, "Running enrichment score", size=24, color="#444", angle=-90)
txt(2849, 1111, "Ranked list metric", size=24, color="#444", angle=-90)
txt(3398, 1250, "Rank in Ordered Dataset", size=33)
txt(2817, 1320, "Apoptosis, IL-6 JAK STAT3 signaling, Inflammatory response,", size=33.5, xa="left")
txt(2817, 1364, "Interferon alpha response, Interferon gamma response, TNFA signaling via NFkb", size=33.5, xa="left")
txt(2862, 1612, "Running enrichment score", size=29, color="#333", angle=-90)
txt(2862, 1945, "Ranked list metric", size=29, color="#333", angle=-90)
txt(3476, 2085, "Rank in Ordered Dataset", size=33)

fig = go.Figure(data=traces)
fig.update_layout(width=W, height=H, margin=dict(l=0, r=0, t=0, b=0, autoexpand=False), paper_bgcolor="white", plot_bgcolor="rgba(0,0,0,0)",
                  font=dict(family=FONT, color="#222"), showlegend=True, barmode="overlay", annotations=annos, shapes=shapes, **layout)
fig.write_html("out.html", config={"displayModeBar": False},
               post_script="document.body.style.margin='0';document.body.style.overflow='hidden';")
